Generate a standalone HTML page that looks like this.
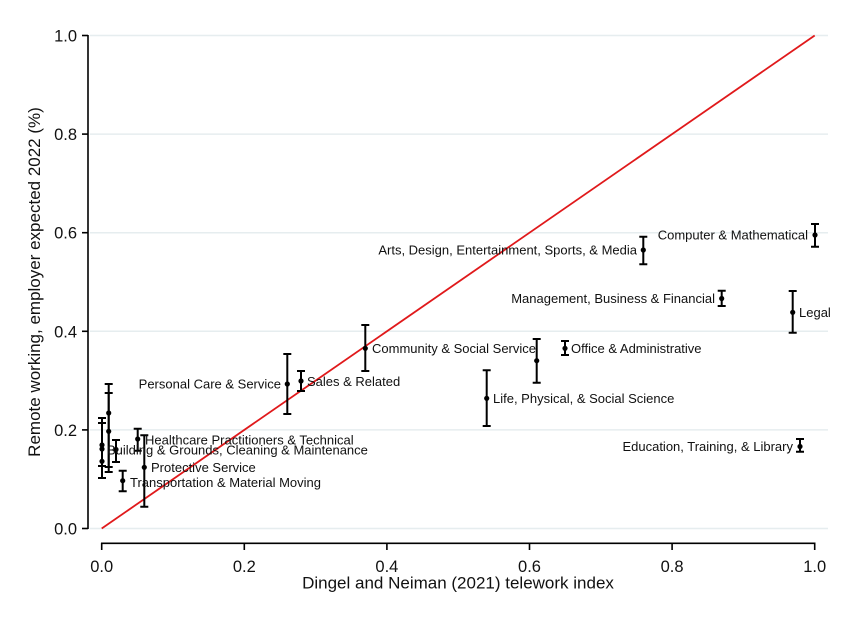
<!DOCTYPE html>
<html>
<head>
<meta charset="utf-8">
<style>
html,body{margin:0;padding:0;background:#fff;}
svg{display:block;}
text{font-family:"Liberation Sans",Arial,sans-serif;fill:#111;}
.lbl{font-size:13px;}
.tick{font-size:16.5px;}
.ttl{font-size:17px;}
</style>
</head>
<body>
<svg width="850" height="618" viewBox="0 0 850 618" xmlns="http://www.w3.org/2000/svg">
<rect width="850" height="618" fill="#fff"/>
<!-- gridlines -->
<g stroke="#e6edef" stroke-width="1.5">
<line x1="90" y1="528.5" x2="828" y2="528.5"/>
<line x1="90" y1="429.9" x2="828" y2="429.9"/>
<line x1="90" y1="331.3" x2="828" y2="331.3"/>
<line x1="90" y1="232.7" x2="828" y2="232.7"/>
<line x1="90" y1="134.1" x2="828" y2="134.1"/>
<line x1="90" y1="35.5" x2="828" y2="35.5"/>
</g>
<!-- axes -->
<g stroke="#000" stroke-width="1.6" fill="none">
<line x1="88" y1="35" x2="88" y2="529"/>
<line x1="82" y1="528.5" x2="88" y2="528.5"/>
<line x1="82" y1="429.9" x2="88" y2="429.9"/>
<line x1="82" y1="331.3" x2="88" y2="331.3"/>
<line x1="82" y1="232.7" x2="88" y2="232.7"/>
<line x1="82" y1="134.1" x2="88" y2="134.1"/>
<line x1="82" y1="35.5" x2="88" y2="35.5"/>
<line x1="101" y1="543.3" x2="815.5" y2="543.3"/>
<line x1="101.7" y1="543" x2="101.7" y2="550"/>
<line x1="244.3" y1="543" x2="244.3" y2="550"/>
<line x1="386.9" y1="543" x2="386.9" y2="550"/>
<line x1="529.5" y1="543" x2="529.5" y2="550"/>
<line x1="672.1" y1="543" x2="672.1" y2="550"/>
<line x1="814.7" y1="543" x2="814.7" y2="550"/>
</g>
<!-- y tick labels -->
<g class="tick" text-anchor="end">
<text x="77" y="534.5">0.0</text>
<text x="77" y="435.9">0.2</text>
<text x="77" y="337.3">0.4</text>
<text x="77" y="238.7">0.6</text>
<text x="77" y="140.1">0.8</text>
<text x="77" y="41.5">1.0</text>
</g>
<!-- x tick labels -->
<g class="tick" text-anchor="middle">
<text x="101.7" y="572">0.0</text>
<text x="244.3" y="572">0.2</text>
<text x="386.9" y="572">0.4</text>
<text x="529.5" y="572">0.6</text>
<text x="672.1" y="572">0.8</text>
<text x="814.7" y="572">1.0</text>
</g>
<!-- axis titles -->
<text class="ttl" x="458" y="588.5" text-anchor="middle">Dingel and Neiman (2021) telework index</text>
<text class="ttl" transform="translate(40,282) rotate(-90)" text-anchor="middle">Remote working, employer expected 2022 (%)</text>
<!-- 45 degree line -->
<line x1="101.7" y1="528.5" x2="814.7" y2="35.5" stroke="#e0191b" stroke-width="1.8"/>
<!-- error bars -->
<g stroke="#000" stroke-width="2" fill="none">
<!-- x=0 cluster -->
<path d="M102 418V478 M98 418H106 M98 478H106"/>
<path d="M102 423V466 M98 423H106 M98 466H106"/>
<path d="M108.7 384V472 M104.7 384H112.7 M104.7 472H112.7"/>
<path d="M108.7 393V467 M104.7 393H112.7 M104.7 467H112.7"/>
<path d="M116 440V462 M112 440H120 M112 462H120"/>
<path d="M122.7 470.7V491.3 M118.7 470.7H126.7 M118.7 491.3H126.7"/>
<path d="M137.7 428.7V450.7 M133.7 428.7H141.7 M133.7 450.7H141.7"/>
<path d="M144.3 435.3V506.7 M140.3 435.3H148.3 M140.3 506.7H148.3"/>
<!-- others -->
<path d="M287.3 354V414 M283.3 354H291.3 M283.3 414H291.3"/>
<path d="M301 371V391 M297 371H305 M297 391H305"/>
<path d="M365.3 325V371 M361.3 325H369.3 M361.3 371H369.3"/>
<path d="M486.7 370.3V426 M482.7 370.3H490.7 M482.7 426H490.7"/>
<path d="M536.7 339V382.7 M532.7 339H540.7 M532.7 382.7H540.7"/>
<path d="M565 341V355 M561 341H569 M561 355H569"/>
<path d="M643.3 236.7V264.3 M639.3 236.7H647.3 M639.3 264.3H647.3"/>
<path d="M721.7 290.7V306 M717.7 290.7H725.7 M717.7 306H725.7"/>
<path d="M792.7 291V332.7 M788.7 291H796.7 M788.7 332.7H796.7"/>
<path d="M800 439V451.7 M796 439H804 M796 451.7H804"/>
<path d="M815 224V246.7 M811 224H819 M811 246.7H819"/>
</g>
<!-- points -->
<g fill="#000">
<circle cx="102" cy="445" r="2.6"/>
<circle cx="102" cy="449" r="2.6"/>
<circle cx="102" cy="461.3" r="2.6"/>
<circle cx="108.7" cy="413" r="2.6"/>
<circle cx="108.7" cy="431.3" r="2.6"/>
<circle cx="116" cy="449.5" r="2.6"/>
<circle cx="122.7" cy="480.7" r="2.6"/>
<circle cx="137.7" cy="439" r="2.6"/>
<circle cx="144.3" cy="467.3" r="2.6"/>
<circle cx="287.3" cy="384" r="2.6"/>
<circle cx="301" cy="381" r="2.6"/>
<circle cx="365.3" cy="348.3" r="2.6"/>
<circle cx="486.7" cy="398.3" r="2.6"/>
<circle cx="536.7" cy="360.7" r="2.6"/>
<circle cx="565" cy="348.3" r="2.6"/>
<circle cx="643.3" cy="250" r="2.6"/>
<circle cx="721.7" cy="298.5" r="2.6"/>
<circle cx="792.7" cy="312.3" r="2.6"/>
<circle cx="800" cy="446.5" r="2.6"/>
<circle cx="815" cy="235" r="2.6"/>
</g>
<!-- labels -->
<g class="lbl">
<text x="637" y="254.5" text-anchor="end">Arts, Design, Entertainment, Sports, &amp; Media</text>
<text x="808" y="239.5" text-anchor="end">Computer &amp; Mathematical</text>
<text x="715" y="303" text-anchor="end">Management, Business &amp; Financial</text>
<text x="799" y="317">Legal</text>
<text x="372" y="353">Community &amp; Social Service</text>
<text x="571" y="353">Office &amp; Administrative</text>
<text x="281" y="388.5" text-anchor="end">Personal Care &amp; Service</text>
<text x="307" y="386">Sales &amp; Related</text>
<text x="493" y="403">Life, Physical, &amp; Social Science</text>
<text x="793" y="451" text-anchor="end">Education, Training, &amp; Library</text>
<text x="145" y="444.5">Healthcare Practitioners &amp; Technical</text>
<text x="107" y="454.5">Building &amp; Grounds, Cleaning &amp; Maintenance</text>
<text x="151" y="472">Protective Service</text>
<text x="130" y="487">Transportation &amp; Material Moving</text>
</g>
</svg>
</body>
</html>
